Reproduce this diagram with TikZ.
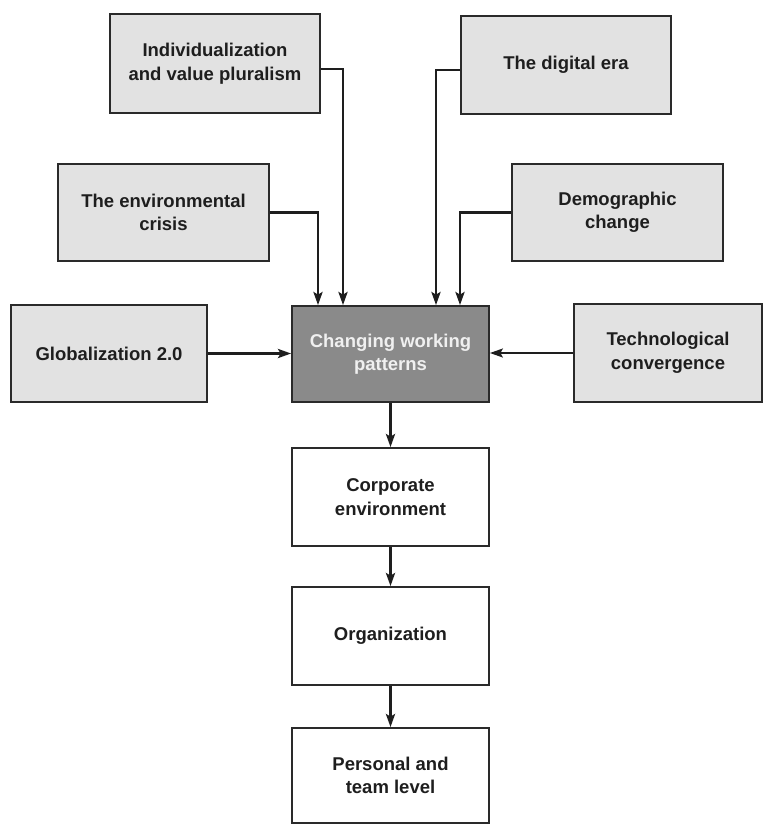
\documentclass[tikz,border=0pt]{standalone}
\usepackage{fontspec}
\setmainfont{Liberation Sans}
\usetikzlibrary{arrows.meta}
\definecolor{boxfill}{HTML}{E2E2E2}
\definecolor{darkfill}{HTML}{8A8A8A}
\definecolor{edge}{HTML}{2A2A2A}
\definecolor{txt}{HTML}{1E1E1E}
\tikzset{
  base/.style={draw=edge, line width=1.8pt, align=center, inner sep=0pt,
    font=\fontsize{18.5}{23.5}\selectfont\bfseries, text=txt},
  driver/.style={base, fill=boxfill},
  core/.style={base, fill=darkfill, text=white!94!black},
  level/.style={base, fill=white},
  arr/.style={draw=txt, line width=2.6pt, -{Stealth[length=13pt,width=9pt,inset=2.5pt]}},
  thinarr/.style={draw=txt, line width=1.6pt, -{Stealth[length=13pt,width=9pt,inset=2.5pt]}}
}
\begin{document}
\begin{tikzpicture}[x=1pt,y=-1pt]
\useasboundingbox (0,0) rectangle (763,824);
\node[driver, minimum width=210pt, minimum height=99pt] (ind) at (215,63.5) {Individualization\\and value pluralism};
\node[driver, minimum width=210pt, minimum height=98pt] (dig) at (566,65) {The digital era};
\node[driver, minimum width=211pt, minimum height=97pt] (env) at (163.5,212.5) {The environmental\\crisis};
\node[driver, minimum width=211pt, minimum height=97pt] (dem) at (617.5,212.5) {Demographic\\change};
\node[driver, minimum width=196pt, minimum height=97pt] (glob) at (109,353.5) {Globalization 2.0};
\node[core, minimum width=197pt, minimum height=96pt] (cwp) at (390.5,354) {Changing working\\patterns};
\node[driver, minimum width=188pt, minimum height=98pt] (tech) at (668,353) {Technological\\convergence};
\node[level, minimum width=197pt, minimum height=98pt] (corp) at (390.5,497) {Corporate\\environment};
\node[level, minimum width=197pt, minimum height=98pt] (org) at (390.5,636) {Organization};
\node[level, minimum width=197pt, minimum height=95pt] (pers) at (390.5,775.5) {Personal and\\team level};

\draw[arr] ([yshift=-5.5pt]ind.east) -| ([xshift=-47.5pt]cwp.north);
\draw[arr] (env.east) -| ([xshift=-72.5pt]cwp.north);
\draw[arr] ([yshift=-5pt]dig.west) -| ([xshift=45.5pt]cwp.north);
\draw[arr] (dem.west) -| ([xshift=69.5pt]cwp.north);
\draw[arr] (glob.east) -- (glob.east -| cwp.west);
\draw[thinarr] (tech.west) -- (tech.west -| cwp.east);
\draw[arr] (cwp.south) -- (corp.north);
\draw[arr] (corp.south) -- (org.north);
\draw[arr] (org.south) -- (pers.north);
\end{tikzpicture}
\end{document}
